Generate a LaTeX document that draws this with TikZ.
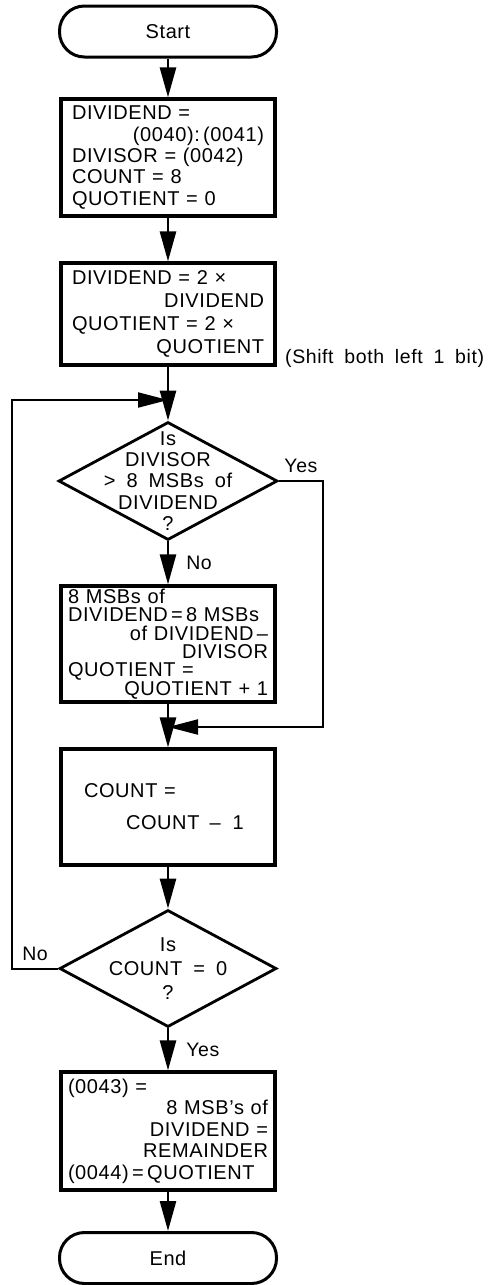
\documentclass[tikz,border=0pt]{standalone}
\usepackage{fontspec}
\setmainfont{Liberation Sans}[LetterSpace=3,WordSpace=1.8]
\usetikzlibrary{shapes.geometric,arrows.meta}
\tikzset{
  proc/.style={draw, line width=3.2pt, text width=192pt, inner xsep=11pt, inner ysep=2pt, align=left, font=\fontsize{20}{21.3}\selectfont},
  term/.style={draw, line width=3pt, rounded corners=25pt, minimum width=217pt, minimum height=51pt, font=\fontsize{20}{21}\selectfont},
  decision/.style={draw, diamond, line width=2.8pt, minimum width=219pt, minimum height=118pt, inner sep=0pt},
  dtext/.style={align=center, inner sep=0pt, font=\fontsize{20}{21.2}\selectfont},
  lbl/.style={inner sep=0pt, font=\fontsize{19.5}{21}\selectfont},
  flow/.style={line width=2.6pt, -{Triangle[length=30pt,width=16pt]}},
  back/.style={line width=2pt, -{Triangle[length=30pt,width=15pt]}}
}
\begin{document}
\begin{tikzpicture}[x=1pt,y=-1pt]
  \useasboundingbox (0,0) rectangle (494,1285);

  \node[term] (start) at (168,31.5) {Start};
  \node[proc, minimum height=117pt] (init) at (168,157.5)
    {DIVIDEND =\\\hspace*{\fill}(0040):\,(0041)\\DIVISOR = (0042)\\COUNT = 8\\QUOTIENT = 0};
  \node[proc, minimum height=102pt, font=\fontsize{20}{23}\selectfont] (shift) at (168,314)
    {DIVIDEND = 2 ×\\\hspace*{\fill}DIVIDEND\\QUOTIENT = 2 ×\\\hspace*{\fill}QUOTIENT};
  \node[lbl, anchor=west] (note) at (285,358) {(Shift both left 1 bit)};
  \node[decision] (cmp) at (168,481) {};
  \node[dtext] (cmptext) at (cmp) {Is\\DIVISOR\\> 8 MSBs of\\DIVIDEND\\?};
  \node[proc, minimum height=116pt, text width=200pt, inner xsep=7pt, font=\fontsize{20}{18.3}\selectfont] (sub) at (168,644)
    {8 MSBs of\\DIVIDEND\,=\,8 MSBs\\\hspace*{\fill}of DIVIDEND\,–\\\hspace*{\fill}DIVISOR\\QUOTIENT =\\\hspace*{\fill}QUOTIENT + 1};
  \node[proc, minimum height=116pt, font=\fontsize{20}{32}\selectfont] (count) at (168,807)
    {\hspace*{12pt}COUNT =\\\hspace*{54pt}COUNT\hspace{10pt}–\hspace{12pt}1};
  \node[decision, minimum width=217pt, minimum height=117pt] (zero) at (168,968.5) {};
  \node[dtext, font=\fontsize{20}{24}\selectfont] (zerotext) at (zero) {Is\\COUNT = 0\\?};
  \node[proc, minimum height=118pt, text width=200pt, inner xsep=7pt, font=\fontsize{20}{21.5}\selectfont] (store) at (168,1131)
    {(0043) =\\\hspace*{\fill}8 MSB’s of\\\hspace*{\fill}DIVIDEND =\\\hspace*{\fill}REMAINDER\\(0044)\,=\,QUOTIENT};
  \node[term] (stop) at (168,1258) {End};

  \coordinate (looptop) at (12,400);
  \coordinate (loopin) at (168,400);
  \coordinate (yesturn) at (323,727);
  \coordinate (merge) at (168,727);

  \foreach \a/\b in {start/init, init/shift, shift/cmp, sub/count, count/zero, store/stop}
    \draw[flow] (\a) -- (\b);
  \draw[flow] (cmp) -- node[lbl, right=17pt] (nolbl) {No} (sub);
  \draw[flow] (zero) -- node[lbl, right=17pt] (yeslbl) {Yes} (store);
  \draw[back] (cmp.east) -| node[lbl, pos=.25, above=7pt] (yestop) {Yes} (yesturn) -- (merge);
  \draw[back] (zero.west) -| node[lbl, pos=.25, above=7pt] (noleft) {No} (looptop) -- (loopin);
\end{tikzpicture}
\end{document}
